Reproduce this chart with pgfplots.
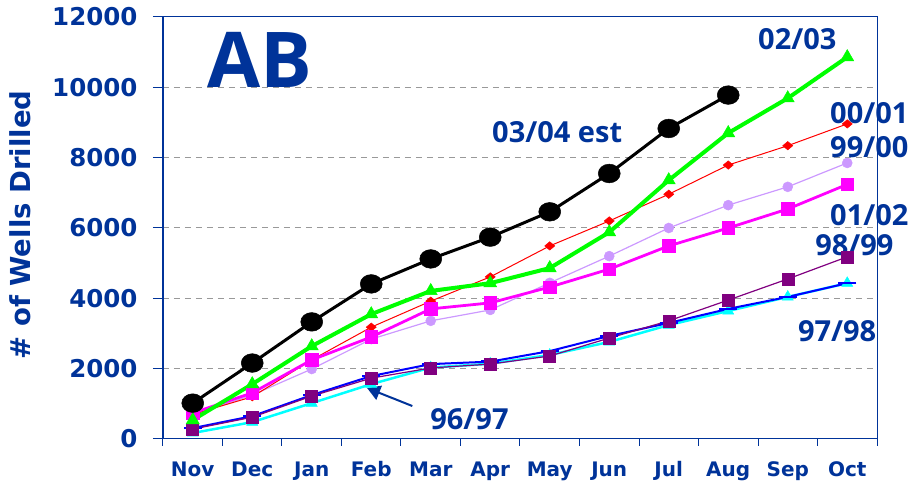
\documentclass[border=0pt]{standalone}
\usepackage{pgfplots}
\pgfplotsset{compat=1.18}
\usepackage{pgfplotstable}
\usepackage{fontspec}
\setmainfont{DejaVu Sans}
\newfontfamily\labfont{Open Sans}
\usetikzlibrary{arrows.meta}
\definecolor{tblue}{RGB}{0,51,153}
\definecolor{lav}{RGB}{204,153,255}
\definecolor{purp}{RGB}{128,0,128}
\definecolor{gcol}{RGB}{0,255,0}
\definecolor{ccol}{RGB}{0,255,255}
\definecolor{mcol}{RGB}{255,0,255}
\definecolor{bcol}{RGB}{0,0,255}
\definecolor{rcol}{RGB}{255,0,0}
\pgfplotstableread{
x s9697 s9798 s9899 s9900 s0001 s0102 s0203 s0304
0 170 310 280 680 700 740 540 1020
1 480 650 620 1250 1200 1310 1560 2160
2 1020 1250 1220 1990 2250 2250 2640 3330
3 1560 1790 1730 2840 3180 2900 3550 4410
4 2030 2130 2020 3360 3920 3700 4210 5120
5 2140 2200 2130 3670 4610 3870 4430 5740
6 2390 2500 2360 4440 5490 4320 4860 6460
7 2760 2930 2870 5200 6200 4830 5880 7550
8 3240 3300 3360 6000 6960 5490 7360 8830
9 3640 3700 3950 6650 7790 6000 8700 9780
10 4040 4040 4550 7170 8340 6540 9690 nan
11 4430 4430 5180 7850 8960 7240 10860 nan
}\data
\begin{document}
\begin{tikzpicture}
\useasboundingbox (-163pt,-45pt) rectangle (751pt,439pt);
\begin{axis}[
  at={(0,0)}, anchor=south west,
  scale only axis, width=714pt, height=422pt,
  xmin=-0.5, xmax=11.5, ymin=0, ymax=12000,
  clip=false,
  xtick={0,...,11},
  xticklabels={Nov,Dec,Jan,Feb,Mar,Apr,May,Jun,Jul,Aug,Sep,Oct},
  minor xtick={-0.5,0.5,...,11.5},
  ytick={0,2000,...,12000},
  scaled y ticks=false,
  tick pos=left,
  tick align=outside,
  major tick length=10pt, minor tick length=7pt,
  major x tick style={draw=none},
  tick style={tblue, line width=1pt},
  axis line style={tblue, line width=1pt},
  ymajorgrids,
  grid style={gray!80, dash pattern=on 6pt off 5pt, line width=1pt},
  /pgf/number format/.cd, 1000 sep={}, assume math mode=true,
  /pgfplots/.cd,
  yticklabel style={font=\bfseries\fontsize{24.5}{24.5}\selectfont, text=tblue, xshift=-12pt},
  xticklabel style={font=\bfseries\fontsize{20}{20}\selectfont, text=tblue, yshift=-9pt},
]
\addplot[ccol, line width=2.5pt, mark=triangle*, mark size=6.4pt, mark options={solid, line width=0.5pt}] table[x=x, y=s9697] {\data};
\addplot[bcol, line width=2pt, mark=-, mark size=9pt, mark options={solid, line width=2.5pt}] table[x=x, y=s9798] {\data};
\addplot[purp, line width=1.2pt, mark=square*, mark size=6pt, mark options={solid, line width=0.5pt}] table[x=x, y=s9899] {\data};
\addplot[lav, line width=1.2pt, mark=*, mark size=5pt, mark options={solid, line width=0.5pt}] table[x=x, y=s9900] {\data};
\addplot[rcol, line width=1pt, mark=diamond*, mark size=4.2pt, mark options={solid, line width=0.5pt, xscale=1.6}] table[x=x, y=s0001] {\data};
\addplot[mcol, line width=2.8pt, mark=square*, mark size=6.3pt, mark options={solid, line width=0.5pt}] table[x=x, y=s0102] {\data};
\addplot[gcol, line width=4pt, mark=triangle*, mark size=7.5pt, mark options={solid, line width=0.5pt}] table[x=x, y=s0203] {\data};
\addplot[black, line width=3pt, mark=*, mark size=11pt, mark options={solid, line width=0.5pt, yscale=0.85}] table[x=x, y=s0304] {\data};

\draw[tblue, line width=2pt] (rel axis cs:0,0) -- (rel axis cs:0,1);
\node[font=\labfont\bfseries\fontsize{77}{77}\selectfont, text=tblue, anchor=west, inner sep=0pt] at (axis cs:0.24,10780) {AB};
\node[font=\labfont\bfseries\fontsize{29}{29}\selectfont, text=tblue, anchor=base west, inner sep=0pt] at (axis cs:9.50,11089) {02/03};
\node[font=\labfont\bfseries\fontsize{29}{29}\selectfont, text=tblue, anchor=base west, inner sep=0pt] at (axis cs:5.03,8445) {03/04 est};
\node[font=\labfont\bfseries\fontsize{29}{29}\selectfont, text=tblue, anchor=base west, inner sep=0pt] at (axis cs:10.71,8985) {00/01};
\node[font=\labfont\bfseries\fontsize{29}{29}\selectfont, text=tblue, anchor=base west, inner sep=0pt] at (axis cs:10.71,8018) {99/00};
\node[font=\labfont\bfseries\fontsize{29}{29}\selectfont, text=tblue, anchor=base west, inner sep=0pt] at (axis cs:10.71,6085) {01/02};
\node[font=\labfont\bfseries\fontsize{29}{29}\selectfont, text=tblue, anchor=base west, inner sep=0pt] at (axis cs:10.46,5232) {98/99};
\node[font=\labfont\bfseries\fontsize{29}{29}\selectfont, text=tblue, anchor=base west, inner sep=0pt] at (axis cs:10.17,2786) {97/98};
\node[font=\labfont\bfseries\fontsize{29}{29}\selectfont, text=tblue, anchor=base west, inner sep=0pt] at (axis cs:3.99,284) {96/97};
\draw[-{Triangle[length=13pt,width=15pt]}, line width=2pt, tblue] (axis cs:3.69,938) -- (axis cs:2.93,1450);
\node[rotate=90, font=\bfseries\fontsize{27.5}{27.5}\selectfont, text=tblue, inner sep=0pt] at ([xshift=-143pt, yshift=3pt]rel axis cs:0,0.5) {\# of Wells Drilled};
\end{axis}
\end{tikzpicture}
\end{document}
